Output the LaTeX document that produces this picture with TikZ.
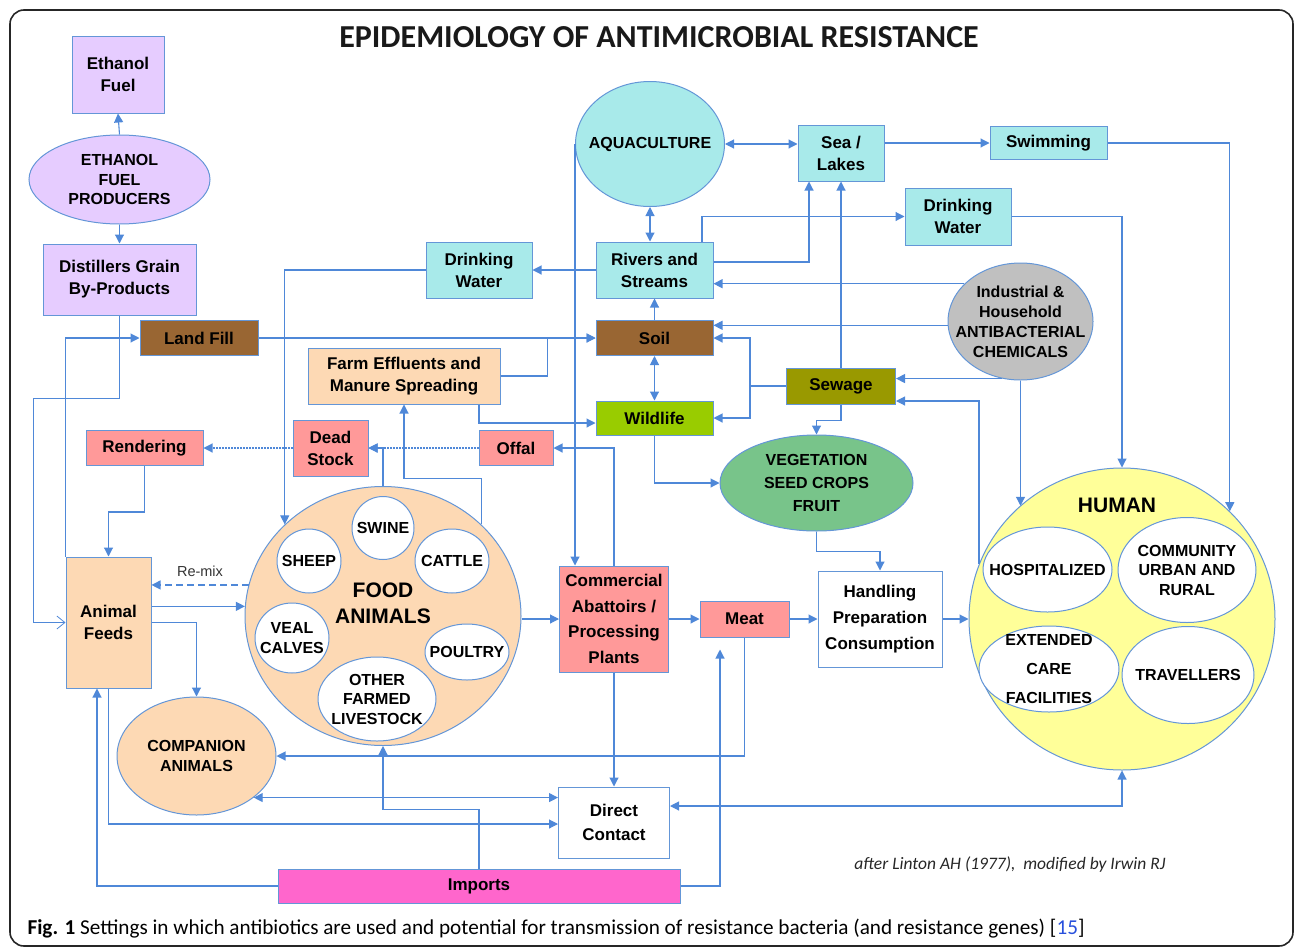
\documentclass[tikz,border=0pt]{standalone}
\usepackage{fontspec}
\setmainfont{Liberation Sans}
\newfontfamily\capfont{Carlito}
\usetikzlibrary{shapes.geometric}
\usetikzlibrary{arrows.meta}
\usetikzlibrary{calc}

\definecolor{linkblue}{RGB}{79,136,216}
\definecolor{edgeblue}{RGB}{100,150,215}
\definecolor{lavender}{RGB}{230,204,255}
\definecolor{aquafill}{RGB}{168,234,234}
\definecolor{soilbrown}{RGB}{153,102,51}
\definecolor{peach}{RGB}{253,217,180}
\definecolor{salmon}{RGB}{255,153,153}
\definecolor{olive}{RGB}{153,153,0}
\definecolor{leafgreen}{RGB}{153,204,0}
\definecolor{vegegreen}{RGB}{120,196,138}
\definecolor{chemgray}{RGB}{192,192,192}
\definecolor{humanyellow}{RGB}{255,255,153}
\definecolor{importpink}{RGB}{255,102,204}
\definecolor{refblue}{RGB}{40,80,220}

\newcommand\lblfont{\fontsize{17}{22}\selectfont\bfseries}
\newcommand\capsfont{\fontsize{16}{19.5}\selectfont\bfseries}
\newcommand\bigcaps{\fontsize{21}{26}\selectfont\bfseries}

\begin{document}
\begin{tikzpicture}[x=1pt,y=1pt,yscale=-1,
  sz/.style 2 args={minimum width=#1pt,minimum height=#2pt},
  box/.style={draw=edgeblue, line width=1pt, align=center, inner sep=0pt, font=\lblfont},
  oval/.style={ellipse, draw=edgeblue, line width=1pt, inner sep=0pt},
  otext/.style={label={[align=center,font=\capsfont]center:#1}},
  conn/.style={draw=linkblue, line width=1.1pt, -{Triangle[length=9pt,width=9pt]}},
  dconn/.style={conn, {Triangle[length=9pt,width=9pt]}-{Triangle[length=9pt,width=9pt]}},
  openconn/.style={draw=linkblue, line width=1.1pt, -{Straight Barb[length=8pt,width=13pt,line width=0.8pt]}},
  dotconn/.style={conn, dash pattern=on 1.5pt off 1.5pt},
  dashconn/.style={conn, dash pattern=on 7pt off 4pt}]
\useasboundingbox (0,0) rectangle (1296,948);

% frame and titles
\draw[line width=1.6pt, draw=black!85, rounded corners=14pt] (10,10) rectangle (1293,946);
\node[font=\capfont\fontsize{32}{36}\selectfont\bfseries, text=black!90] (title) at (659,37) {EPIDEMIOLOGY OF ANTIMICROBIAL RESISTANCE};
\node[anchor=west, font=\capfont\fontsize{21.2}{25}\selectfont] (caption) at (24,929) {\textbf{Fig. 1} Settings in which antibiotics are used and potential for transmission of resistance bacteria (and resistance genes) [\textcolor{refblue}{15}]};
\node[font=\capfont\itshape\fontsize{17.5}{21}\selectfont, text=black!85] (credit) at (1010,865) {after Linton AH (1977),\ \ modified by Irwin RJ};

% ethanol column
\node[box, fill=lavender, sz={92}{77}] (ethfuel) at (118,74.5) {Ethanol\\Fuel};
\node[oval, fill=lavender, sz={181}{89}, otext={ETHANOL\\FUEL\\PRODUCERS}] (ethprod) at (119.5,179.5) {};
\node[box, fill=lavender, sz={153}{71}] (distil) at (119.5,279.5) {Distillers Grain\\By-Products};
\node[box, fill=soilbrown, sz={118}{35}] (landfill) at (199,338) {Land Fill};

% water
\node[box, fill=aquafill, sz={106}{56}] (dwleft) at (479,270) {Drinking\\Water};
\node[box, fill=aquafill, sz={117}{56}] (rivers) at (654.5,270) {Rivers and\\Streams};
\node[oval, fill=aquafill, sz={149}{125}, otext={AQUACULTURE}] (aqua) at (650,144) {};
\node[box, fill=aquafill, sz={86}{56}] (sea) at (841,153) {Sea /\\Lakes};
\node[box, fill=aquafill, sz={117}{33}] (swim) at (1048.5,143) {Swimming};
\node[box, fill=aquafill, sz={106}{57}] (dwright) at (958,216.5) {Drinking\\Water};
\node[oval, fill=chemgray, sz={145}{117}, label={[align=center,font=\fontsize{16}{20}\selectfont\bfseries]center:Industrial \&\\Household\\ANTIBACTERIAL\\CHEMICALS}] (chem) at (1020.5,321.5) {};

% environment
\node[box, fill=soilbrown, sz={117}{35}] (soil) at (654.5,338) {Soil};
\node[box, fill=peach, sz={192}{56}] (effluent) at (404,376) {Farm Effluents and\\Manure Spreading};
\node[box, fill=olive, sz={109}{36}] (sewage) at (841,386) {Sewage};
\node[box, fill=leafgreen, sz={117}{34}] (wildlife) at (654.5,418) {Wildlife};
\node[box, fill=salmon, sz={75}{56}] (deadstock) at (330.5,448) {Dead\\Stock};
\node[box, fill=salmon, sz={74}{35}] (offal) at (516,448) {Offal};
\node[box, fill=salmon, sz={117}{35}] (render) at (144.5,448) {Rendering};
\node[oval, fill=vegegreen, sz={193}{96}, label={[align=center,font=\fontsize{16}{23}\selectfont\bfseries]center:VEGETATION\\SEED CROPS\\FRUIT}] (veg) at (816.5,483) {};

% human
\node[oval, fill=humanyellow, sz={306}{302}] (human) at (1122,619) {};
\node[font=\bigcaps] (humantxt) at (1117,505) {HUMAN};
\node[oval, fill=white, sz={129}{85}, otext={HOSPITALIZED}] (hosp) at (1047.5,569.5) {};
\node[oval, fill=white, sz={138}{105}, otext={COMMUNITY\\URBAN AND\\RURAL}] (community) at (1187,570) {};
\node[oval, fill=white, sz={140}{86}, label={[align=center,font=\fontsize{16}{29}\selectfont\bfseries]center:EXTENDED\\CARE\\FACILITIES}] (extcare) at (1049,669) {};
\node[oval, fill=white, sz={132}{97}, otext={TRAVELLERS}] (travel) at (1188,675) {};

% food chain
\node[box, fill=white, sz={124}{96}, font=\fontsize{17}{26}\selectfont\bfseries] (handling) at (880,619) {Handling\\Preparation\\Consumption};
\node[box, fill=salmon, sz={89}{36}] (meat) at (744.5,619) {Meat};
\node[box, fill=salmon, sz={109}{106}, font=\fontsize{17}{25.5}\selectfont\bfseries] (abattoir) at (614,619) {Commercial\\Abattoirs /\\Processing\\Plants};

% food animals
\node[oval, fill=peach, sz={276}{259}] (food) at (383,616) {};
\node[font=\bigcaps, align=center] (foodtxt) at (383,603) {FOOD\\ANIMALS};
\node[oval, fill=white, sz={62}{63}, otext={SWINE}] (swine) at (383,528) {};
\node[oval, fill=white, sz={64}{64}, otext={SHEEP}] (sheep) at (309,561) {};
\node[oval, fill=white, sz={74}{64}, otext={CATTLE}] (cattle) at (452,561) {};
\node[oval, fill=white, sz={74}{70}, otext={VEAL\\CALVES}] (veal) at (292,638) {};
\node[oval, fill=white, sz={84}{56}, otext={POULTRY}] (poultry) at (467,652) {};
\node[oval, fill=white, sz={118}{84}, otext={OTHER\\FARMED\\LIVESTOCK}] (otherlive) at (377,699) {};

\node[box, fill=peach, sz={85}{131}] (feeds) at (108.5,622.5) {Animal\\Feeds};
\node[oval, fill=peach, sz={159}{118}, otext={COMPANION\\ANIMALS}] (companion) at (196.5,756) {};
\node[box, fill=white, sz={111}{71}, font=\fontsize{17}{24}\selectfont\bfseries] (direct) at (614,822.5) {Direct\\Contact};
\node[box, fill=importpink, sz={402}{34}] (imports) at (479,886) {Imports};

% connectors
\draw[conn] (ethprod.north) -- (ethfuel.south);
\draw[conn] (ethprod.south) -- (distil.north);
\draw[openconn] (distil.south) -- ++(0,83) -| ($(feeds.west)+(-32,0)$) -- (feeds.west);
\draw[conn] (feeds.north west) -- (feeds.north west |- landfill.west) -- (landfill.west);
\draw[conn] (landfill.east) -- (soil.west);
\draw[conn] (dwleft.west) -| (food.137);
\draw[conn] (rivers.west) -- (dwleft.east);
\draw[dconn] (aqua.south) -- (aqua.south |- rivers.north);
\draw[dconn] (aqua.east) -- (aqua.east -| sea.west);
\draw[conn] (sea.east |- swim.west) -- (swim.west);
\draw[conn] (swim.east) -| (human.45);
\draw[conn] (dwright.east) -| (human.north);
\draw[conn] ($(rivers.north)+(47.5,0)$) |- (dwright.west);
\draw[conn] ($(rivers.east)+(0,-8)$) -| ($(sea.south)+(-32,0)$);
\draw[conn] (sewage.north) -- (sewage.north |- sea.south);
\draw[conn] (chem.146) -- (chem.146 -| rivers.east);
\draw[conn] (chem.183) -- (chem.183 -| soil.east);
\coordinate (sewfork) at (750,386);
\draw[conn] (sewage.west) -- (sewfork) |- (soil.east);
\draw[conn] (sewfork) |- (wildlife.east);
\draw[conn] (soil.north) -- (rivers.south);
\draw[dconn] (soil.south) -- (wildlife.north);
\draw[conn] (chem.-108) -- (chem.-108 -| sewage.east);
\draw[conn] (chem.south) -- (chem.south |- human.132);
\draw[conn] (human.159) |- ($(sewage.east)+(0,15)$);
\draw[conn] (sewage.south) -- ++(0,16) -| (veg.north);
\draw[conn] (wildlife.south) |- (veg.west);
\draw[conn] (veg.south) -- ++(0,20) -| (handling.north);
\draw[conn] (handling.east) -- (human.west);
\draw[conn] (meat.east) -- (handling.west);
\draw[conn] (abattoir.east) -- (meat.west);
\draw[conn] (food.east |- abattoir.west) -- (abattoir.west);
\draw[conn] (aqua.west) -- (aqua.west |- abattoir.north);
\draw[conn] (abattoir.north) |- (offal.east);
\draw[dotconn] (offal.west) -- (deadstock.east);
\draw[conn] (food.north) |- (deadstock.east);
\draw[dotconn] (deadstock.west) -- (render.east);
\draw[conn] (render.south) -- ++(0,46) -| (feeds.north);
\draw[conn] (food.43) |- ($(effluent.south)+(0,74)$) -- (effluent.south);
\draw[conn] (effluent.east) -| ($(soil.west)+(-48,0)$) -- (soil.west);
\draw[conn] ($(effluent.south)+(75,0)$) |- ($(wildlife.west)+(0,5)$);
\draw[dashconn] (food.167) -- (food.167 -| feeds.east) node[midway, above=4pt, font=\fontsize{14.5}{17}\selectfont, text=black!80] (remix) {Re-mix};
\draw[conn] (feeds.east |- food.176) -- (food.176);
\draw[conn] (feeds.east) -| (companion.north);
\draw[conn] (imports.west) -| ($(feeds.south)+(-11.5,0)$);
\draw[conn] (feeds.south) |- ($(direct.west)+(0,1.5)$);
\draw[dconn] (companion.-36) -- (companion.-36 -| direct.west);
\draw[conn] (imports.north) -- ++(0,-59) -| (food.south);
\draw[conn] (imports.east) -| ($(meat.south)+(-24.5,12)$);
\draw[conn] (meat.south) |- (companion.east);
\draw[conn] (abattoir.south) -- (abattoir.south |- direct.north);
\draw[dconn] (human.south) |- ($(direct.east)+(0,-16.5)$);

\end{tikzpicture}
\end{document}
